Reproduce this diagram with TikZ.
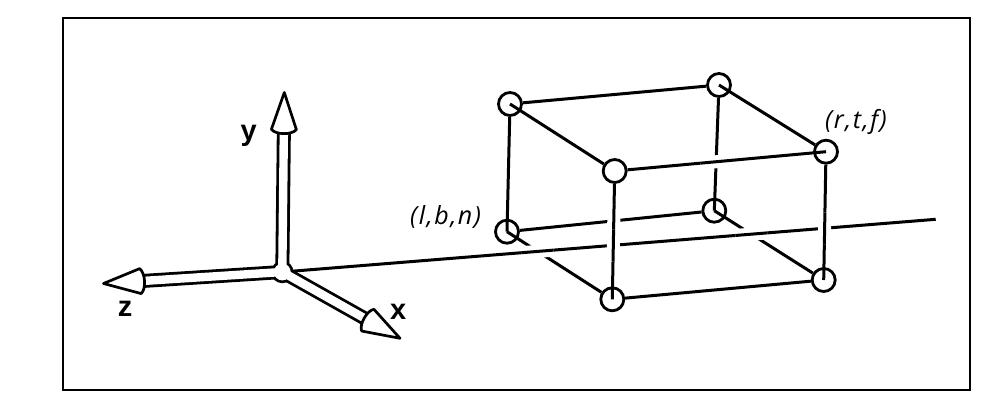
\documentclass[tikz,border=0pt]{standalone}
\usepackage{fontspec}
\setsansfont{Liberation Sans}
\newfontfamily\lblfont[LetterSpace=6]{Open Sans}
\usetikzlibrary{intersections}
\newcommand\conehead[2]{\draw[head, shift={#1}, rotate=#2] (0,0) -- (-37,12.5) .. controls (-42.5,8) and (-42.5,-8) .. (-37,-12.5) -- cycle;}
\newcommand\crossfix[3]{%
  \path[name intersections={of=#1 and #2, by=ix}];
  \begin{scope}\clip (ix) circle (16); #3 \end{scope}}
\begin{document}
\begin{tikzpicture}[x=1pt,y=-1pt,
  edge/.style={line width=3pt},
  vtx/.style={circle, draw, line width=2.8pt, fill=white, minimum size=23pt, inner sep=0pt},
  halo/.style={draw=white, line width=13pt},
  head/.style={draw, line width=2.7pt, fill=white, line join=round},
  axlbl/.style={font=\sffamily\bfseries\fontsize{29}{32}\selectfont, inner sep=0pt, anchor=base},
  ptlbl/.style={font=\lblfont\itshape\fontsize{25}{28}\selectfont, inner sep=0pt, anchor=base west}]
\useasboundingbox (0,0) rectangle (982,402);
\draw[line width=2pt] (63,17.5) rectangle (970,390);

% cube vertices
\node[vtx] (A) at (510,104) {};
\node[vtx] (B) at (614.7,171) {};
\node[vtx] (C) at (507,231.7) {};
\node[vtx] (D) at (612.3,299.3) {};
\node[vtx] (E) at (719,85) {};
\node[vtx] (F) at (826,151.7) {};
\node[vtx] (G) at (714.3,210.7) {};
\node[vtx] (H) at (823.7,280) {};

% axis points
\coordinate (O) at (282.3,272);
\coordinate (R) at (935.7,219.3);
\coordinate (ytip) at (284.3,92.5);
\coordinate (yb) at (283.9,126.5);
\coordinate (ztip) at (103.5,283.5);
\coordinate (zb) at (137.4,281.3);
\coordinate (xtip) at (400,338.3);
\coordinate (xb) at (370.4,321.6);

% edges
\draw[edge, name path=hz] (O) -- (R);
\draw[edge] (A) -- (E);
\draw[edge] (A.center) -- (B);
\draw[edge] (A) -- (C.center);
\draw[edge, name path=BF] (B) -- (F.center);
\draw[edge, name path=BD] (B) -- (D.center);
\draw[edge] (E.center) -- (F);
\draw[edge, name path=EG] (E) -- (G.center);
\draw[edge, name path=FH] (F) -- (H.center);
\draw[edge, name path=CG] (C) -- (G);
\draw[edge, name path=CD] (C.center) -- (D);
\draw[edge, name path=GH] (G.center) -- (H);
\draw[edge] (D) -- (H);

% hidden-line gaps
\crossfix{BD}{CG}{\draw[halo] (B) -- (D.center); \draw[edge] (B) -- (D.center);}
\crossfix{BD}{hz}{\draw[halo] (B) -- (D.center); \draw[edge] (B) -- (D.center);}
\crossfix{BF}{EG}{\draw[halo] (B) -- (F.center); \draw[edge] (B) -- (F.center);}
\crossfix{FH}{hz}{\draw[halo] (F) -- (H.center); \draw[edge] (F) -- (H.center);}
\crossfix{hz}{GH}{\draw[halo] (O) -- (R); \draw[edge] (O) -- (R);}
\crossfix{hz}{CD}{\draw[halo] (O) -- (R); \draw[edge] (O) -- (R);}

% axes
\draw[line width=14pt] (O) -- (yb) (O) -- (zb) (O) -- (xb);
\fill (O) circle (11.2);
\draw[white, line width=8.4pt] (O) -- (yb) (O) -- (zb) (O) -- (xb);
\fill[white] (O) circle (8.4);
\conehead{(ytip)}{89.36}
\conehead{(ztip)}{183.7}
\conehead{(xtip)}{-29.4}

% labels
\node[axlbl] (ly) at (248.7,140) {y};
\node[axlbl] (lz) at (125,316.5) {z};
\node[axlbl] (lx) at (398.3,319.5) {x};
\node[ptlbl] (lbn) at (410,224.5) {(l,b,n)};
\node[ptlbl] (rtf) at (825,128) {(r,t,f)};
\end{tikzpicture}
\end{document}
